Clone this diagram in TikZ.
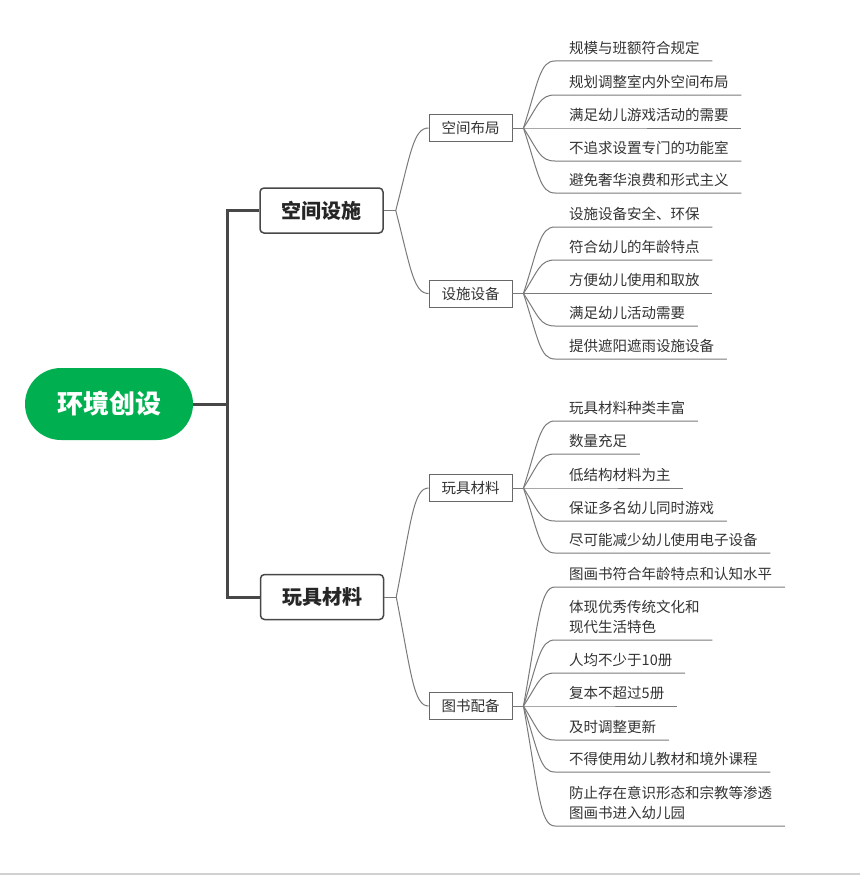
\documentclass[tikz,border=0pt]{standalone}
\usepackage{fontspec}
\setmainfont{Noto Sans CJK SC}
\usetikzlibrary{calc}
\definecolor{rootgreen}{HTML}{00B050}
\definecolor{thickc}{HTML}{474747}
\definecolor{thinc}{HTML}{7A7A7A}
\definecolor{txtc}{HTML}{333333}
\newcommand\leafT[1]{\hspace*{14pt}\begin{tabular}[b]{@{}l@{}}#1\end{tabular}\hspace*{12.5pt}}
\begin{document}
\begin{tikzpicture}[x=1pt,y=-1pt,
 rootnode/.style={fill=rootgreen, text=white, font=\fontsize{26}{30}\selectfont\bfseries, minimum width=168pt, minimum height=72pt, rounded corners=36pt, inner sep=0pt},
 mainbox/.style={draw=thickc, line width=1.5pt, rounded corners=4pt, fill=white, minimum width=123pt, minimum height=45pt, inner sep=0pt, font=\fontsize{20}{24}\selectfont\bfseries, text=black!85},
 subbox/.style={draw=thinc!85!black, line width=0.9pt, fill=white, minimum width=83pt, minimum height=27pt, inner sep=0pt, font=\fontsize{14.5}{20}\selectfont, text=txtc},
 leaf/.style={anchor=south west, inner xsep=0pt, inner ysep=7.5pt, text depth=0pt, font=\fontsize{14.5}{20}\selectfont, text=txtc},
 trunk/.style={draw=thickc, line width=3pt},
 twig/.style={draw=thinc, line width=1pt},
 cv/.style={to path={.. controls ($(\tikztostart)!0.7!(\tikztostart|-\tikztotarget)+(15,0)$) and ($(\tikztotarget)+(-15,0)$) .. (\tikztotarget)}}
]
\useasboundingbox (0,0) rectangle (860,875);
\fill[white] (0,0) rectangle (860,875);
\fill[black!18] (0,873) rectangle (860,875);

% nodes
\node[rootnode] (root) at (109,404) {环境创设};
\node[mainbox] (m1) at (321.5,210.5) {空间设施};
\node[mainbox] (m2) at (322,597) {玩具材料};
\node[subbox] (s1) at (470.5,128) {空间布局};
\node[subbox] (s2) at (470.5,293.5) {设施设备};
\node[subbox] (s3) at (470.5,488) {玩具材料};
\node[subbox] (s4) at (470.5,706) {图书配备};

% leaves of s1
\node[leaf] (a1) at (555,61) {\leafT{规模与班额符合规定}};
\node[leaf] (a2) at (555,95) {\leafT{规划调整室内外空间布局}};
\node[leaf] (a3) at (555,128) {\leafT{满足幼儿游戏活动的需要}};
\node[leaf] (a4) at (555,161) {\leafT{不追求设置专门的功能室}};
\node[leaf] (a5) at (555,193) {\leafT{避免奢华浪费和形式主义}};
% leaves of s2
\node[leaf] (b1) at (555,227) {\leafT{设施设备安全、环保}};
\node[leaf] (b2) at (555,260) {\leafT{符合幼儿的年龄特点}};
\node[leaf] (b3) at (555,293.5) {\leafT{方便幼儿使用和取放}};
\node[leaf] (b4) at (555,326) {\leafT{满足幼儿活动需要}};
\node[leaf] (b5) at (555,359) {\leafT{提供遮阳遮雨设施设备}};
% leaves of s3
\node[leaf] (c1) at (555,421) {\leafT{玩具材料种类丰富}};
\node[leaf] (c2) at (555,454) {\leafT{数量充足}};
\node[leaf] (c3) at (555,488) {\leafT{低结构材料为主}};
\node[leaf] (c4) at (555,521) {\leafT{保证多名幼儿同时游戏}};
\node[leaf] (c5) at (555,553) {\leafT{尽可能减少幼儿使用电子设备}};
% leaves of s4
\node[leaf] (d1) at (555,587) {\leafT{图画书符合年龄特点和认知水平}};
\node[leaf] (d2) at (555,640) {\leafT{体现优秀传统文化和\\现代生活特色}};
\node[leaf] (d3) at (555,673) {\leafT{人均不少于10册}};
\node[leaf] (d4) at (555,706) {\leafT{复本不超过5册}};
\node[leaf] (d5) at (555,740) {\leafT{及时调整更新}};
\node[leaf] (d6) at (555,772) {\leafT{不得使用幼儿教材和境外课程}};
\node[leaf] (d7) at (555,826) {\leafT{防止存在意识形态和宗教等渗透\\图画书进入幼儿园}};

% trunk connectors
\coordinate (tk) at (227,404);
\draw[trunk] (root.east) -- (tk);
\draw[trunk] (m1.west) -| (tk) |- (m2.west);

% level 2 connectors
\draw[twig] (m1.east) -- ++(12,0) coordinate (j1);
\draw[twig] (j1) to[cv] (s1.west);
\draw[twig] (j1) to[cv] (s2.west);
\draw[twig] (m2.east) -- ++(12,0) coordinate (j2);
\draw[twig] (j2) to[cv] (s3.west);
\draw[twig] (j2) to[cv] (s4.west);

% level 3 connectors
\draw[twig] (s1.east) -- ++(11,0) coordinate (k1);
\draw[twig] (s2.east) -- ++(11,0) coordinate (k2);
\draw[twig] (s3.east) -- ++(11,0) coordinate (k3);
\draw[twig] (s4.east) -- ++(11,0) coordinate (k4);
\foreach \n in {a1,a2,a3,a4,a5}{\draw[twig] (k1) to[cv] (\n.south west) -- (\n.south east);}
\foreach \n in {b1,b2,b3,b4,b5}{\draw[twig] (k2) to[cv] (\n.south west) -- (\n.south east);}
\foreach \n in {c1,c2,c3,c4,c5}{\draw[twig] (k3) to[cv] (\n.south west) -- (\n.south east);}
\foreach \n in {d1,d2,d3,d4,d5,d6,d7}{\draw[twig] (k4) to[cv] (\n.south west) -- (\n.south east);}
\end{tikzpicture}
\end{document}
